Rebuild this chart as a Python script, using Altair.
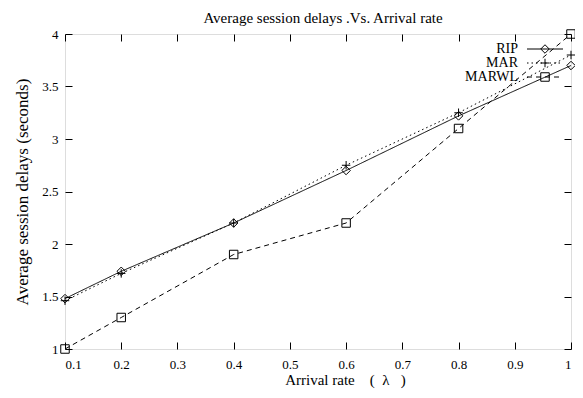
import altair as alt
import pandas as pd

# ---- data ----
arrival_rate = [0.1, 0.2, 0.4, 0.6, 0.8, 1.0]
rip = [1.48, 1.74, 2.20, 2.70, 3.22, 3.70]
mar = [1.46, 1.72, 2.20, 2.75, 3.25, 3.80]
marwl = [1.00, 1.30, 1.90, 2.20, 3.10, 4.00]
series = ["RIP", "MAR", "MARWL"]
x_ticks = [0.1, 0.2, 0.3, 0.4, 0.5, 0.6, 0.7, 0.8, 0.9, 1.0]
y_ticks = [1, 1.5, 2, 2.5, 3, 3.5, 4]

rows = []
for name, vals in zip(series, [rip, mar, marwl]):
    for r, v in zip(arrival_rate, vals):
        rows.append({"rate": r, "delay": v, "series": name})
df = pd.DataFrame(rows)
legend_df = pd.DataFrame({"series": series})

FONT = "Liberation Serif"
NB = "\u00a0"
shape_scale = alt.Scale(domain=series, range=["diamond", "M-1,0L1,0M0,-1L0,1", "square"])
dash_scale = alt.Scale(domain=series, range=[[1, 0], [1.5, 3], [5, 4]])

x_scale = alt.Scale(domain=[0.1, 1.0], nice=False, zero=False)
y_scale = alt.Scale(domain=[1, 4], nice=False, zero=False)

x_axis = alt.Axis(values=x_ticks, format="~g", offset=-7, tickSize=7, domain=False, grid=False,
                  labelPadding=9, labelFont=FONT, labelFontSize=13, labelColor="black",
                  tickColor="black",
                  title="Arrival rate" + NB * 4 + "(" + NB * 2 + "λ" + NB * 3 + ")",
                  titleFont=FONT, titleFontSize=15, titleFontWeight="normal",
                  titleColor="black", titlePadding=1, titleX=280)
y_axis = alt.Axis(values=y_ticks, format="~g", offset=-7, tickSize=7, domain=False, grid=False,
                  labelPadding=7, labelFont=FONT, labelFontSize=13, labelColor="black",
                  tickColor="black", title="Average session delays (seconds)", titleFont=FONT,
                  titleFontSize=17, titleFontWeight="normal", titleColor="black",
                  titlePadding=10)

base = alt.Chart(df)

lines = base.mark_line(color="black", strokeWidth=1).encode(
    x=alt.X("rate:Q", scale=x_scale, axis=x_axis),
    y=alt.Y("delay:Q", scale=y_scale, axis=y_axis),
    strokeDash=alt.StrokeDash("series:N", scale=dash_scale, legend=None),
    detail="series:N",
)

points = base.mark_point(color="black", filled=False, strokeWidth=1, size=72, opacity=1).encode(
    x=alt.X("rate:Q", scale=x_scale, axis=None),
    y=alt.Y("delay:Q", scale=y_scale, axis=None),
    shape=alt.Shape("series:N", scale=shape_scale, legend=None),
)

mirror = base.mark_point(opacity=0).encode(
    x=alt.X("rate:Q", scale=x_scale,
            axis=alt.Axis(orient="top", values=x_ticks, labels=False, offset=-7, tickSize=7,
                          domain=False, grid=False, tickColor="black", title=None)),
    y=alt.Y("delay:Q", scale=y_scale,
            axis=alt.Axis(orient="right", values=y_ticks, labels=False, offset=-7, tickSize=7,
                          domain=False, grid=False, tickColor="black", title=None)),
)

y_leg = alt.Y("series:N", scale=alt.Scale(type="point", domain=series, range=[15, 43], padding=0),
              axis=None)

leg_text = alt.Chart(legend_df).mark_text(align="right", baseline="middle", font=FONT,
                                          fontSize=14, color="black").encode(
    x=alt.value(453), y=y_leg, text="series:N")
leg_rule = alt.Chart(legend_df).mark_rule(color="black", strokeWidth=1).encode(
    x=alt.value(462), x2=alt.value(498), y=y_leg,
    strokeDash=alt.StrokeDash("series:N", scale=dash_scale, legend=None))
leg_point = alt.Chart(legend_df).mark_point(color="black", filled=False, strokeWidth=1,
                                            size=72, opacity=1).encode(
    x=alt.value(480), y=y_leg,
    shape=alt.Shape("series:N", scale=shape_scale, legend=None))

chart = alt.layer(lines, points, mirror, leg_text, leg_rule, leg_point).resolve_scale(
    y="independent"
).resolve_axis(x="independent", y="independent").properties(
    width=506, height=315,
    title=alt.TitleParams("Average session delays .Vs. Arrival rate", font=FONT, fontSize=15,
                          fontWeight="normal", color="black", anchor="middle", frame="group",
                          offset=2, dx=5),
    autosize=alt.AutoSizeParams(type="none"),
    padding={"left": 57, "top": 26, "right": 4, "bottom": 40},
).configure_view(stroke="black", strokeWidth=1).configure(background="white").configure_axis(
    labelFont=FONT
)

chart.save("out.html", embed_options={"renderer": "svg", "actions": False})
